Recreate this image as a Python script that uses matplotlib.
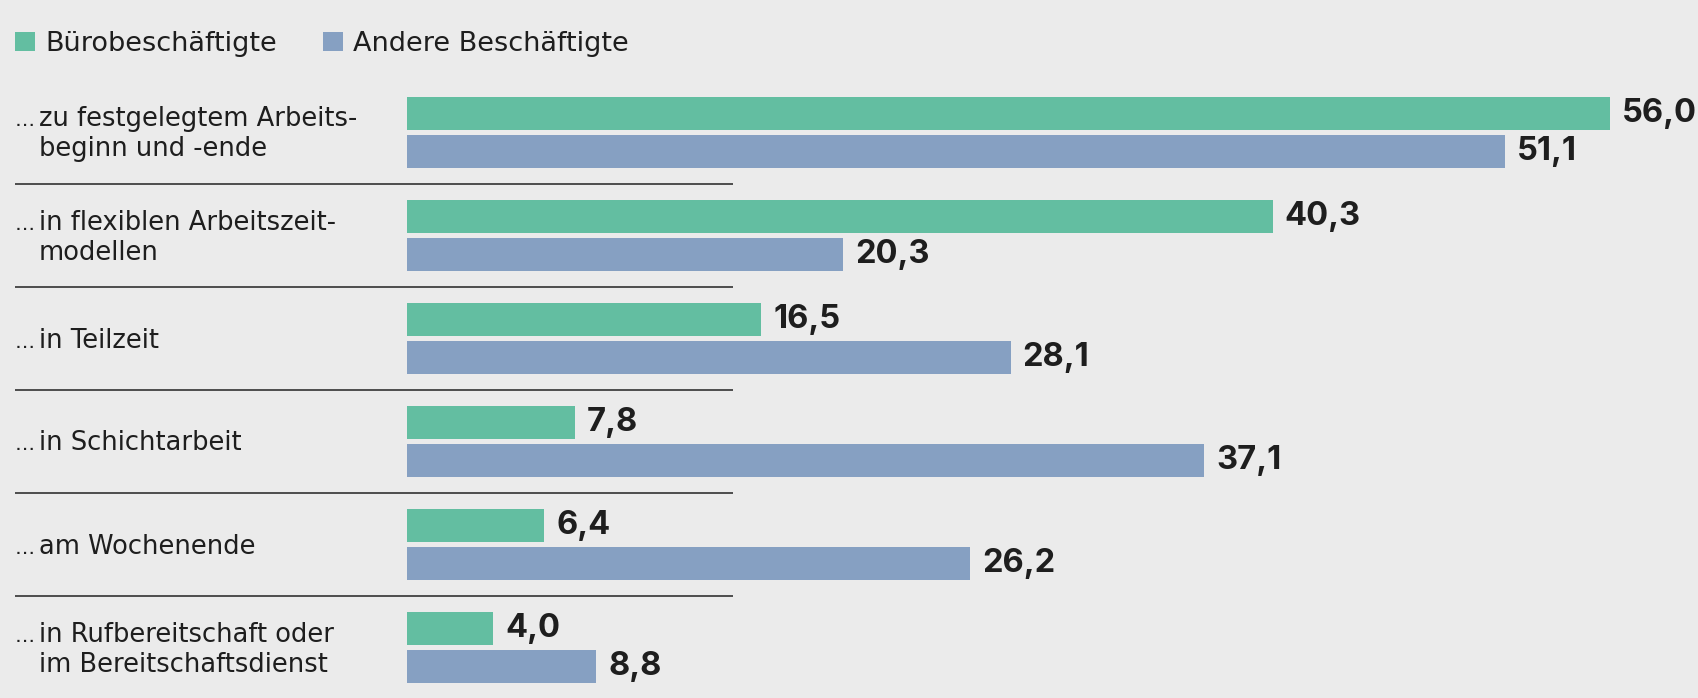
import matplotlib
matplotlib.use("Agg")
import matplotlib.pyplot as plt
from matplotlib.patches import Rectangle
from matplotlib.transforms import blended_transform_factory, ScaledTranslation
import numpy as np

# ---- data ----
categories = [
    "… zu festgelegtem Arbeits-\nbeginn und -ende",
    "… in flexiblen Arbeitszeit-\nmodellen",
    "… in Teilzeit",
    "… in Schichtarbeit",
    "… am Wochenende",
    "… in Rufbereitschaft oder\nim Bereitschaftsdienst",
]
series_names = ["Bürobeschäftigte", "Andere Beschäftigte"]
buero = [56.0, 40.3, 16.5, 7.8, 6.4, 4.0]
andere = [51.1, 20.3, 28.1, 37.1, 26.2, 8.8]

# ---- style ----
GREEN = "#63BEA1"
BLUE = "#86A0C2"
BG = "#EBEBEB"
TXT = "#1E1E1E"
LABEL_FONT = ["DejaVu Sans"]
VALUE_FONT = ["Inter", "DejaVu Sans"]

W, H, DPI = 1699, 698, 100
fig = plt.figure(figsize=(W / DPI, H / DPI), dpi=DPI, facecolor=BG)

# axes in pixel layout
left_px, right_px = 407, 1696
top_px, bot_px = 81, 698
pitch_px = 103
ax = fig.add_axes([left_px / W, (H - bot_px) / H, (right_px - left_px) / W, (bot_px - top_px) / H])
ax.set_facecolor("none")
ax.axis("off")
ax.set_xlim(0, 60)
ax.set_ylim(-0.5 + (bot_px - top_px) / pitch_px, -0.5)

y = np.arange(len(categories))
off = 19 / pitch_px
bh = 33 / pitch_px
b1 = ax.barh(y - off, buero, height=bh, color=GREEN)
b2 = ax.barh(y + off, andere, height=bh, color=BLUE)

def fmt(v):
    return f"{v:.1f}".replace(".", ",")

for bars, vals in ((b1, buero), (b2, andere)):
    for rect, v in zip(bars, vals):
        ax.annotate(fmt(v), xy=(v, rect.get_y() + rect.get_height() / 2),
                    xytext=(12, 0), textcoords="offset pixels",
                    ha="left", va="center", fontsize=23.5, fontweight="bold",
                    family=VALUE_FONT, color=TXT, annotation_clip=False)

# separators
blend = blended_transform_factory(fig.transFigure, ax.transData)
for i in range(len(categories) - 1):
    ax.plot([15 / W, 733 / W], [i + 0.5, i + 0.5], transform=blend,
            color="#222222", lw=1.1, clip_on=False, solid_capstyle="butt")

# category labels
line_px = 30
for i, lab in enumerate(categories):
    lines = lab.split("\n")
    n = len(lines)
    for j, ln in enumerate(lines):
        dy_px = (j - (n - 1) / 2) * line_px + 9
        tr = blend + ScaledTranslation(0, -dy_px / DPI, fig.dpi_scale_trans)
        if j == 0 and ln.startswith("…"):
            fig.text(15 / W, i, "…", transform=tr, ha="left", va="baseline",
                     fontsize=14.5, family=LABEL_FONT, color=TXT)
            ln = ln[1:].strip()
        fig.text(39 / W, i, ln, transform=tr, ha="left", va="baseline",
                 fontsize=18.5, family=LABEL_FONT, color=TXT)

# legend
for x_sq, name, col in ((15, series_names[0], GREEN), (323, series_names[1], BLUE)):
    fig.add_artist(Rectangle((x_sq / W, 1 - 51 / H), 20 / W, 19 / H,
                             transform=fig.transFigure, color=col, lw=0))
    fig.text((x_sq + 30) / W, 1 - 51 / H, name, ha="left", va="baseline",
             fontsize=19.5, family=LABEL_FONT, color=TXT)

fig.savefig("out.png", dpi=DPI, facecolor=BG)
